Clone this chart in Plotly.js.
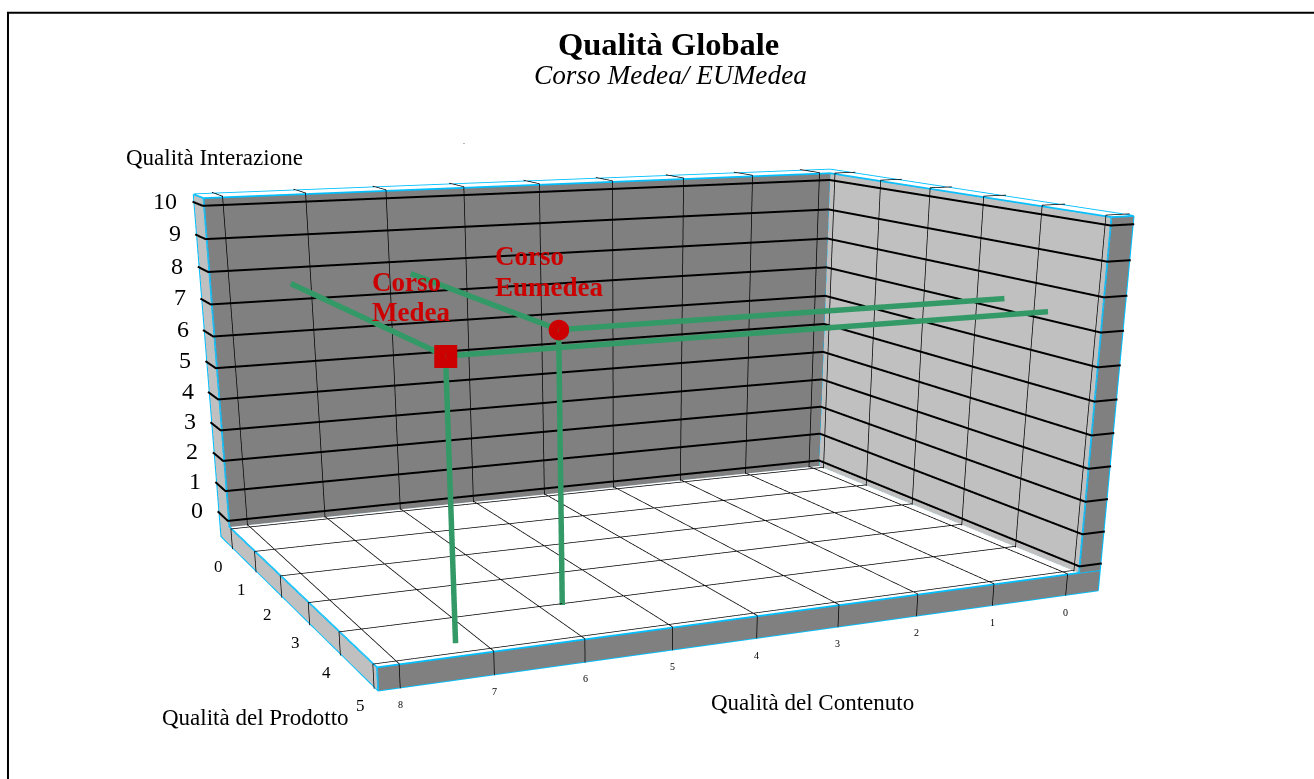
<!DOCTYPE html><html><head><meta charset="utf-8"><script src="https://cdn.plot.ly/plotly-3.0.1.min.js"></script>
<style>html,body{margin:0;padding:0;background:#fff;overflow:hidden;width:1314px;height:779px}#g{position:absolute}</style></head><body><div id="g"></div>
<script>
// data
const courses=['Corso Medea','Corso Eumedea'];
const content=[7.25,5.73];
const product=[4.7,4.0];
const interaction=[7.5,7.6];
const contentEnd=[0.24,0.26];
const contentTicks=[0,1,2,3,4,5,6,7,8];
const productTicks=[0,1,2,3,4,5];
const interTicks=[0,1,2,3,4,5,6,7,8,9,10];
// room (slabs) extents in data units
const cs=8.2214,cr=-0.4689,cw=-0.1772,pb=-0.5755,pw=-0.1359,ps=5.0611,zb=-0.8709,zt=-0.2263,ztop=10.222;
// camera fitted to the picture
const q={ex:13.5717,ey:23.8747,ez:6.0748,tx:10.1144,ty:16.1642,tz:2.5434,sy:1.1691,sz:0.3762,f:1974.4446,ppx:626.5089,ppy:817.1829};

const H=2*q.f*Math.tan(Math.PI/8), W=2*Math.max(q.ppx,1314-q.ppx)+40, L=q.ppx-W/2, Tp=q.ppy-H/2;
const g=document.getElementById('g');g.style.left=L+'px';g.style.top=Tp+'px';g.style.width=W+'px';g.style.height=H+'px';
const xr=[cr-.05,cs+.05],yr=[pb-.05,ps+.05],zr=[zb-.05,ztop+.05];
const R=[xr[1]-xr[0],(yr[1]-yr[0])*q.sy,(zr[1]-zr[0])*q.sz],k=1/Math.max(...R);
const mid=[(xr[0]+xr[1])/2,(yr[0]+yr[1])/2*q.sy,(zr[0]+zr[1])/2*q.sz];
const nE=[q.ex-mid[0],q.ey-mid[1],q.ez-mid[2]].map(v=>v*k),nC=[q.tx-mid[0],q.ty-mid[1],q.tz-mid[2]].map(v=>v*k);
function quads(list){const x=[],y=[],z=[],i=[],j=[],kk=[],fc=[];list.forEach(([col,pts])=>{const b=x.length;pts.forEach(p=>{x.push(p[0]);y.push(p[1]);z.push(p[2])});i.push(b,b);j.push(b+1,b+2);kk.push(b+2,b+3);fc.push(col,col)});
return{type:'mesh3d',x,y,z,i,j,k:kk,facecolor:fc,flatshading:true,lighting:{ambient:1,diffuse:0,specular:0,fresnel:0,roughness:1},hoverinfo:'skip',showscale:false}}
const DK='#808080',LT='#c0c0c0',WH='#ffffff',CY='#00bfff',GR='#339966',RD='#cc0000';
const faces=quads([
[WH,[[cr,pb,zt],[cs,pb,zt],[cs,ps,zt],[cr,ps,zt]]],
[LT,[[cs,pb,zb],[cs,ps,zb],[cs,ps,zt],[cs,pb,zt]]],
[DK,[[cs,ps,zb],[cr,ps,zb],[cr,ps,zt],[cs,ps,zt]]],
[DK,[[cs,pw,zt],[cw,pw,zt],[cw,pw,ztop],[cs,pw,ztop]]],
[LT,[[cs,pb,zt],[cs,pw,zt],[cs,pw,ztop],[cs,pb,ztop]]],
[WH,[[cs,pb,ztop],[cr,pb,ztop],[cr,pw,ztop],[cs,pw,ztop]]],
[LT,[[cw,pw,zt],[cw,ps,zt],[cw,ps,ztop],[cw,pw,ztop]]],
[WH,[[cr,pw,ztop],[cr,ps,ztop],[cw,ps,ztop],[cw,pw,ztop]]],
[DK,[[cw,ps,zt],[cr,ps,zt],[cr,ps,ztop],[cw,ps,ztop]]]]);
function lines(segs,color,width){const x=[],y=[],z=[];segs.forEach(s=>{s.forEach(p=>{x.push(p[0]);y.push(p[1]);z.push(p[2])});x.push(null);y.push(null);z.push(null)});return{type:'scatter3d',mode:'lines',x,y,z,line:{color,width},hoverinfo:'skip',showlegend:false,connectgaps:false}}
const e=0.02,ze=0.04;
const thin=[],thick=[];
contentTicks.forEach(c=>{thin.push([[c,pw+e,zt+ze],[c,ps+e,zt+ze],[c,ps+e,zb]]);thin.push([[c,pw+e,zt],[c,pw+e,ztop+ze],[c,pb,ztop+ze]])});
productTicks.forEach(p=>{thin.push([[cw+e,p,zt+ze],[cs+e,p,zt+ze],[cs+e,p,zb]]);thin.push([[cw+e,p,zt],[cw+e,p,ztop+ze],[cr,p,ztop+ze]])});
interTicks.forEach(z=>{thick.push([[cs+e,pb,z],[cs+e,pw+e,z],[cw+e,pw+e,z],[cw+e,ps+e,z],[cr,ps+e,z]])});
const cyan=[[[cs,pb,ztop],[cr,pb,ztop],[cr,ps,ztop],[cw,ps,ztop],[cw,pw,ztop],[cs,pw,ztop],[cs,pb,ztop]],[[cs,pb,ztop],[cs,pb,zb],[cs,ps,zb],[cr,ps,zb],[cr,ps,ztop]],[[cs,pw,ztop],[cs,pw,zt],[cw,pw,zt],[cw,ps,zt],[cw,ps,ztop]],[[cw,pw,zt],[cw,pw,ztop]],[[cs,pw,zt],[cs,ps,zt],[cr,ps,zt]],[[cs,ps,zt],[cs,ps,zb]]];
const green=[];content.forEach((c,i)=>{const p=product[i],z=interaction[i];green.push([[c,p,zt],[c,p,z]]);green.push([[c,pw+e,z],[c,p,z]]);green.push([[contentEnd[i],p,z],[c,p,z]])});
const mk=(i,symbol)=>({type:'scatter3d',mode:'markers',x:[content[i]],y:[product[i]],z:[interaction[i]],marker:{symbol,size:12,color:RD,line:{width:0}},name:courses[i],hoverinfo:'skip',showlegend:false});
const traces=[faces,lines(thin,'#000',1.5),lines(thick,'#000',4),lines(cyan,CY,3.5),lines(green,GR,11),mk(0,'square'),mk(1,'circle')];
const FF='Liberation Serif';
const sa=(x,y,z,text,size,xs,ys)=>({x,y,z,text:String(text),showarrow:false,xshift:xs,yshift:ys,font:{family:FF,size,color:'#000'},xanchor:'center',yanchor:'middle'});
const sceneAnn=[...interTicks.map(z=>sa(cs,pb,z,z,24,z===10?-29:-22,1)),...productTicks.map(p=>sa(cs,p,zb,p,17,-16,-17)),...contentTicks.map(c=>sa(c,ps,zb,c,10,1,-17))];
const px=v=>(v-L)/W,py=v=>1-(v-Tp)/H;
const an=(x,y,text,size,opt={})=>Object.assign({xref:'paper',yref:'paper',x:px(x),y:py(y),text,showarrow:false,xanchor:'center',yanchor:'middle',font:{family:FF,size,color:'#000'}},opt);
const red=(x,y,t)=>an(x,y,'<b>'+t+'</b>',27,{xanchor:'left',font:{family:FF,size:27,color:RD}});
const annotations=[an(669,44,'<b>Qualità Globale</b>',32.5),an(671,75,'<i>Corso Medea/ EUMedea</i>',27.3),an(215,158,'Qualità Interazione',23),an(256,718,'Qualità del Prodotto',23),an(813,703,'Qualità del Contenuto',23),
red(370,282,'Corso'),red(370,312,'Medea'),red(493,256,'Corso'),red(493,287,'Eumedea'),an(464,142,'.',8)];
Plotly.newPlot(g,traces,{width:W,height:H,margin:{l:0,r:0,t:0,b:0},paper_bgcolor:'#fff',showlegend:false,annotations,
shapes:[{type:'rect',xref:'paper',yref:'paper',x0:px(8),x1:px(1340),y0:py(13),y1:py(800),line:{color:'#000',width:2}}],
scene:{domain:{x:[0,1],y:[0,1]},bgcolor:'rgba(0,0,0,0)',aspectmode:'manual',aspectratio:{x:k*R[0],y:k*R[1],z:k*R[2]},camera:{eye:{x:nE[0],y:nE[1],z:nE[2]},center:{x:nC[0],y:nC[1],z:nC[2]},up:{x:0,y:0,z:1},projection:{type:'perspective'}},
xaxis:{range:xr,visible:false},yaxis:{range:yr,visible:false},zaxis:{range:zr,visible:false},annotations:sceneAnn}},{displayModeBar:false});
</script></body></html>
